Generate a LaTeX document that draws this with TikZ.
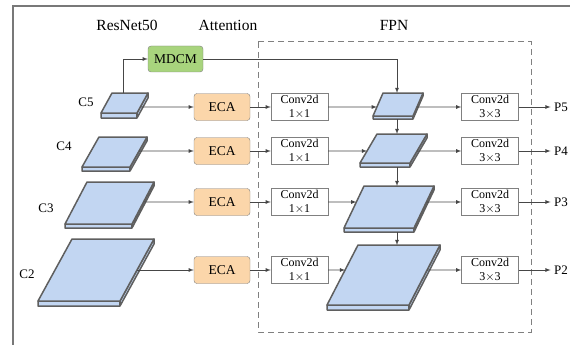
\documentclass[tikz,border=0pt]{standalone}
\usepackage{fontspec}
\setmainfont{Liberation Serif}
\usetikzlibrary{calc,arrows}
\definecolor{sliceblue}{RGB}{194,214,242}
\definecolor{slicegray}{RGB}{95,95,95}
\definecolor{ecaorange}{RGB}{251,214,170}
\definecolor{mdcmgreen}{RGB}{168,212,125}
\definecolor{boxgray}{RGB}{128,128,128}
\definecolor{linegray}{RGB}{70,70,70}
\definecolor{framegray}{RGB}{120,120,120}
\begin{document}
\begin{tikzpicture}[x=1pt,y=-1pt,>=latex,
		slab/.style = {draw=slicegray,line width=1.5pt,fill=sliceblue,line join=round},
		eca/.style = {draw=boxgray,fill=ecaorange,rounded corners=3pt,minimum width=56pt,minimum height=27pt,font=\fontsize{13.5}{14}\selectfont},
		mdcm/.style = {eca,fill=mdcmgreen,minimum width=55pt,minimum height=26pt},
		conv/.style = {draw=boxgray,fill=white,minimum width=57pt,minimum height=27pt,inner sep=0pt,align=center,font=\fontsize{12}{13.5}\selectfont},
		title/.style = {font=\fontsize{15.5}{16}\selectfont},
		lab/.style = {font=\fontsize{13}{14}\selectfont},
		link/.style = {->,draw=linegray,line width=0.8pt}
		]
		\useasboundingbox (0,0) rectangle (570,345);
		\clip (0,0) rectangle (570,345);
		%cornice
		\draw[framegray,line width=2pt] (13,6) rectangle (640,420);
		%titoli
		\node[title] (tres) at (127,25) {ResNet50};
		\node[title] (tatt) at (228,25) {Attention};
		\node[title] (tfpn) at (394,25) {FPN};
		%FPN
		\draw[boxgray,dashed,dash pattern=on 6pt off 4pt,line width=1pt] (258,42) rectangle (531,332);
		%FETTE
		\foreach \n/\xa/\xb/\xc/\ya/\yb/\tk/\ry in {c5/112/148/101/93/113/5/107,c4/99/147/82/137/167/4/151,c3/87/154/65/182/224/4/202,c2/72/154/38/239/301/5/270,f5/383/423/373/93/116/3/107,f4/377/427/360/134/163/4/151,f3/364/434/344/186/228/4/202,f2/358/440/327/245/305/5/270}{
			\draw[slab] (\xc,\yb) -- (\xc+\xb-\xa,\yb) -- (\xb,\ya) -- (\xb,\ya+\tk) -- (\xc+\xb-\xa,\yb+\tk) -- (\xc,\yb+\tk) -- cycle;
			\draw[slab] (\xc+\xb-\xa,\yb) -- (\xc+\xb-\xa,\yb+\tk);
			\draw[slab] (\xa,\ya) -- (\xb,\ya) -- (\xc+\xb-\xa,\yb) -- (\xc,\yb) -- cycle;
			\pgfmathsetmacro\fr{(\ry-\ya)/(\yb-\ya)}
			\coordinate (\n-in) at ($(\xa,\ya)!\fr!(\xc,\yb)$);
			\coordinate (\n-out) at ($(\xb,\ya)!\fr!(\xc+\xb-\xa,\yb)$);
			\coordinate (\n-t) at (397,\ya);
			\coordinate (\n-b) at (397,\yb+\tk);
		}
		\coordinate (c5-up) at (123,93);
		%etichette C
		\node[lab] (lc5) at (86,102) {C5};
		\node[lab] (lc4) at (64,146) {C4};
		\node[lab] (lc3) at (46,208) {C3};
		\node[lab] (lc2) at (27,274) {C2};
		%MDCM
		\node[mdcm] (mdcm) at (175.5,59) {MDCM};
		\draw[link] (c5-up) |- (mdcm);
		\draw[link] (mdcm) -| (f5-t);
		%righe
		\foreach \i/\ry in {5/107,4/151,3/202,2/270}{
			\node[eca] (eca\i) at (222,\ry) {ECA};
			\node[conv] (cva\i) at (299.5,\ry) {Conv2d\\1$\times$1};
			\node[conv] (cvb\i) at (490,\ry) {Conv2d\\3$\times$3};
			\node[lab] (p\i) at (561,\ry) {P\i};
			\draw[link] (c\i-out) -- (eca\i);
			\draw[link] (eca\i) -- (cva\i);
			\draw[link] (cva\i) -- (f\i-in);
			\draw[link] (f\i-out) -- (cvb\i);
			\draw[link] (cvb\i) -- (p\i);
		}
		%top-down
		\draw[link] (f5-b) -- (f4-t);
		\draw[link] (f4-b) -- (f3-t);
		\draw[link] (f3-b) -- (f2-t);
	\end{tikzpicture}
\end{document}
